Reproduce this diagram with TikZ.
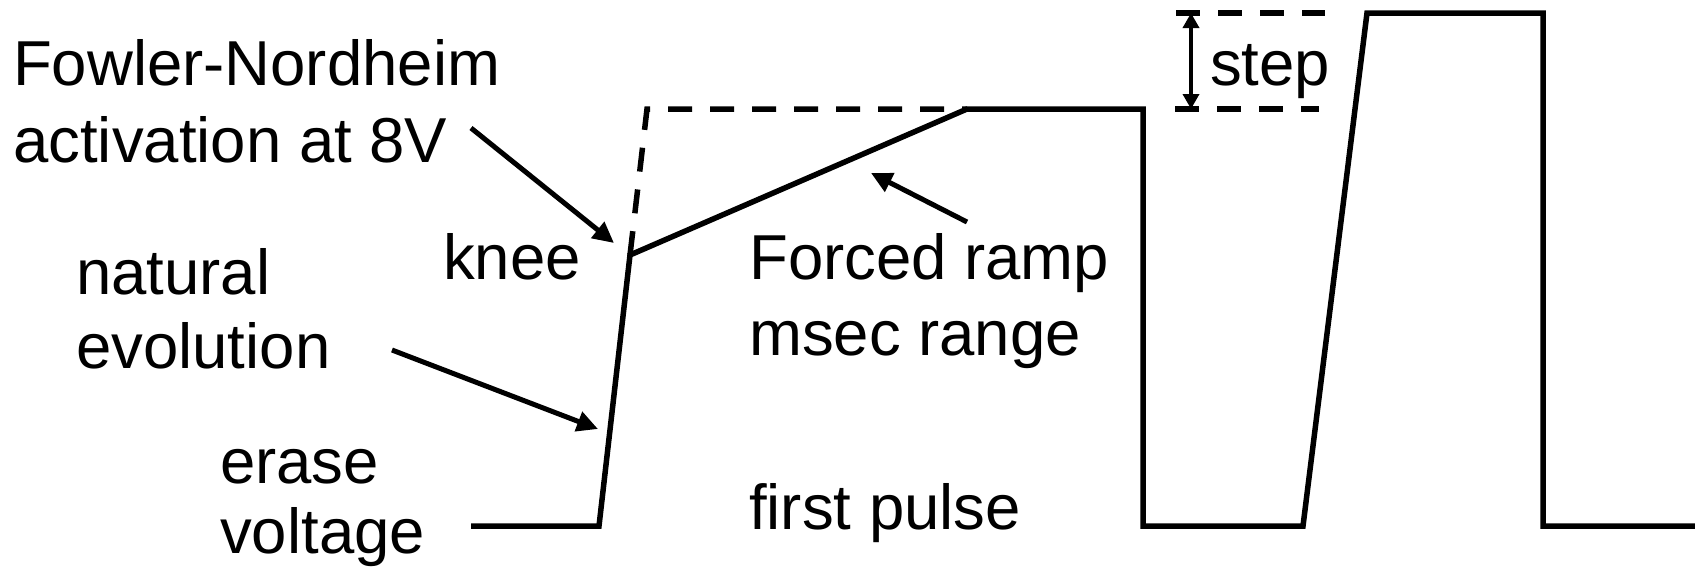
\documentclass[tikz,border=0pt]{standalone}
\usepackage{fontspec}
\setmainfont{Liberation Sans}
\usetikzlibrary{arrows.meta}
\begin{document}
\begin{tikzpicture}[x=1pt,y=-1pt,
  wave/.style={line width=5.5pt, line join=miter},
  dashwave/.style={line width=5.5pt, dash pattern=on 24pt off 18pt},
  lbl/.style={anchor=base west, inner sep=0pt, font=\fontsize{63.5}{75}\selectfont},
  pointer/.style={line width=5pt, -{Triangle[length=21pt,width=20pt]}},
  dimarrow/.style={line width=3.5pt, {Triangle[length=15pt,width=16pt]}-{Triangle[length=15pt,width=16pt]}}]
\useasboundingbox (0,0) rectangle (1695,574);

% waveform points
\coordinate (a0) at (471,526);
\coordinate (a1) at (599,526);
\coordinate (knee) at (630,255);
\coordinate (c1) at (647,109);
\coordinate (r1) at (967,109);
\coordinate (p1) at (1143,109);
\coordinate (p2) at (1143,526);
\coordinate (p3) at (1303,526);
\coordinate (p4) at (1367,13);
\coordinate (p5) at (1543,13);
\coordinate (p6) at (1543,526);
\coordinate (p7) at (1695,526);

\draw[wave] (a0) -- (a1) -- (knee) -- (r1) -- (p1) -- (p2) -- (p3) -- (p4) -- (p5) -- (p6) -- (p7);
\draw[dashwave] (knee) -- (c1) -- (r1);

% step marker
\coordinate (s1a) at (1176,13);
\coordinate (s1b) at (1325,13);
\coordinate (s2a) at (1175,109);
\coordinate (s2b) at (1319,109);
\coordinate (sa) at (1191,13);
\coordinate (sb) at (1191,109);
\draw[dashwave] (s1a) -- (s1b);
\draw[dashwave] (s2a) -- (s2b);
\draw[dimarrow] (sa) -- (sb);

% labels
\node[lbl] (fn1) at (13,85) {Fowler-Nordheim};
\node[lbl] (fn2) at (13,162) {activation at 8V};
\node[lbl] (kn) at (443,279) {knee};
\node[lbl] (ne1) at (76,294) {natural};
\node[lbl] (ne2) at (76,368) {evolution};
\node[lbl] (er1) at (220,483) {erase};
\node[lbl] (er2) at (220,553) {voltage};
\node[lbl] (fr1) at (749,279) {Forced ramp};
\node[lbl] (fr2) at (749,355) {msec range};
\node[lbl] (fp) at (749,529) {first pulse};
\node[lbl] (st) at (1210,85) {step};

% pointers
\coordinate (fnS) at (471,128);
\coordinate (fnT) at (614,243);
\coordinate (neS) at (392,350);
\coordinate (neT) at (598,429);
\coordinate (frS) at (967,222);
\coordinate (frT) at (871,173);
\draw[pointer] (fnS) -- (fnT);
\draw[pointer] (neS) -- (neT);
\draw[pointer] (frS) -- (frT);
\end{tikzpicture}
\end{document}
